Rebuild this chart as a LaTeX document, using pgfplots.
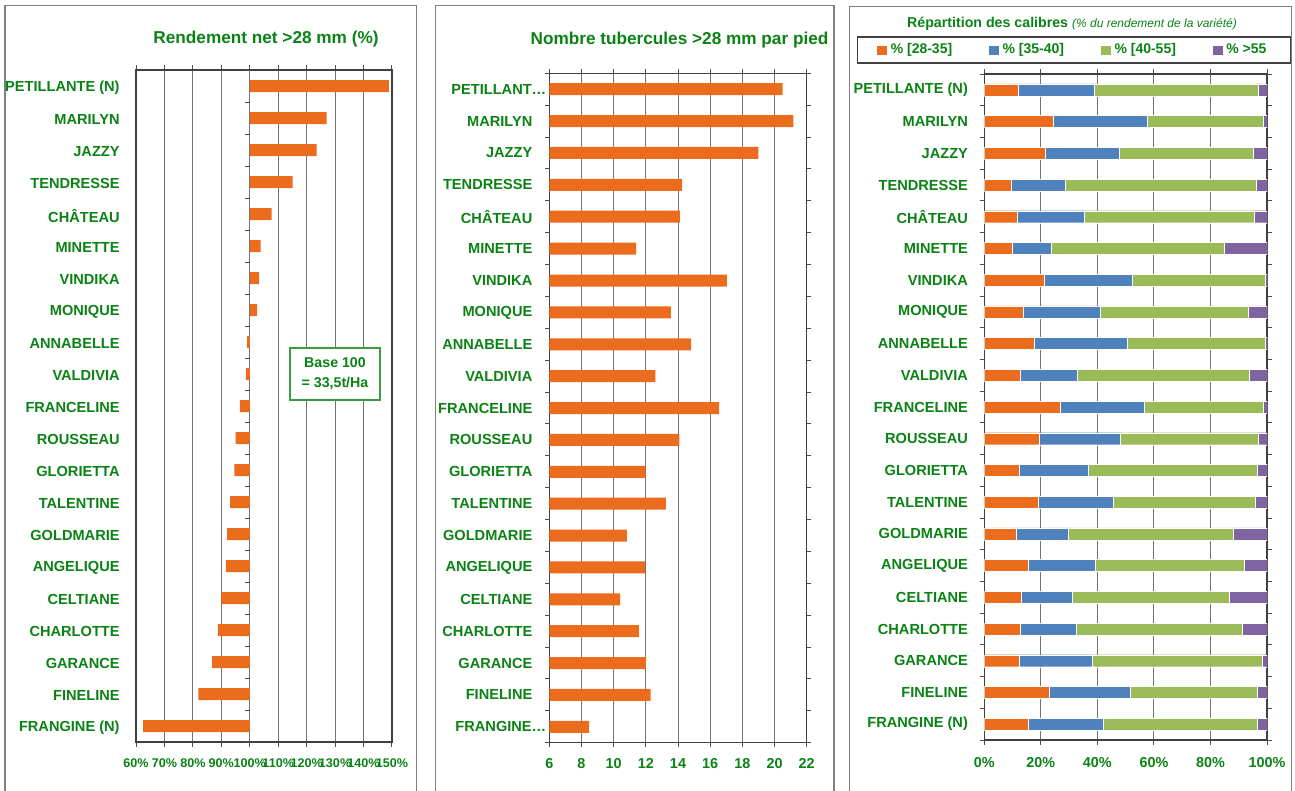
\documentclass[border=0pt]{standalone}
\usepackage{pgfplots}
\pgfplotsset{compat=1.18}
\usepackage{pgfplotstable}
\usepackage{fontspec}
\setmainfont{Liberation Sans}

\definecolor{vert}{RGB}{10,130,20}
\definecolor{orange1}{RGB}{236,108,29}
\definecolor{bleu1}{RGB}{79,129,189}
\definecolor{vert1}{RGB}{155,187,89}
\definecolor{violet1}{RGB}{128,100,162}
\definecolor{cadre}{RGB}{128,128,128}

% idx 0 = bas du graphique
\pgfplotstableread[col sep=comma]{
idx,name,rend,tub,a,b,c,d
0,FRANGINE (N),62.5,8.47,15.7,26.4,54.4,3.5
1,FINELINE,81.9,12.3,22.8,28.9,45.0,3.3
2,GARANCE,86.8,12.0,12.4,25.8,60.0,1.8
3,CHARLOTTE,88.8,11.57,12.7,19.8,58.7,8.8
4,CELTIANE,90.0,10.4,13.1,18.0,55.7,13.2
5,ANGELIQUE,91.6,11.94,15.4,23.9,52.6,8.1
6,GOLDMARIE,92.0,10.82,11.2,18.5,58.4,11.9
7,TALENTINE,93.1,13.24,19.1,26.5,50.2,4.2
8,GLORIETTA,94.6,11.98,12.5,24.3,59.9,3.3
9,ROUSSEAU,95.0,14.09,19.5,28.6,48.7,3.2
10,FRANCELINE,96.5,16.56,27.0,29.4,42.2,1.4
11,VALDIVIA,98.6,12.6,12.6,20.2,60.8,6.4
12,ANNABELLE,99.1,14.82,17.5,33.1,48.7,0.7
13,MONIQUE,102.6,13.55,13.7,27.2,52.5,6.6
14,VINDIKA,103.3,17.04,21.2,31.2,46.9,0.7
15,MINETTE,103.8,11.40,9.9,13.8,61.1,15.2
16,CHÂTEAU,107.7,14.11,11.6,23.9,60.1,4.4
17,TENDRESSE,115.1,14.26,9.6,19.1,67.5,3.8
18,JAZZY,123.5,19.0,21.5,26.1,47.4,5.0
19,MARILYN,127.0,21.17,24.5,33.0,41.2,1.3
20,PETILLANTE (N),148.9,20.5,11.9,27.0,57.9,3.2
}\data

\newcommand{\catfont}{\fontsize{7.3}{8}\selectfont\bfseries}

\pgfplotsset{
  panel/.style={
    scale only axis, anchor=south west,
    ymin=-0.5, ymax=20.5,
    ytick={-0.5,0.5,...,20.5},
    y tick label as interval,
    yticklabels from table={\data}{name},
    yticklabel style={font=\catfont, text=vert, inner sep=0pt},
    xticklabel style={text=vert, inner sep=0pt},
    tick align=outside, major tick length=2.3pt,
    tick style={black!70, line width=0.5pt},
    xmajorgrids, grid style={black!55, line width=0.5pt},
    axis line style={black!75, line width=0.6pt},
    /pgf/number format/assume math mode=true,
  },
  carre/.style={legend image code/.code={\fill[#1] (0pt,-2.1pt) rectangle (4.5pt,2.1pt);}},
}

\begin{document}
\begin{tikzpicture}
\useasboundingbox (0,0) rectangle (647.5pt,-395.5pt);

% cadres
\draw[cadre, line width=0.6pt] (2.5pt,-400pt) |- (208.3pt,-2.85pt) -- (208.3pt,-400pt);
\draw[cadre, line width=0.6pt] (217.8pt,-400pt) |- (417pt,-2.85pt) -- (417pt,-400pt);
\draw[cadre, line width=0.6pt] (424.7pt,-400pt) |- (645.8pt,-3.3pt) -- (645.8pt,-400pt);

% ---- Rendement net
\begin{axis}[panel, xbar, bar width=6pt,
  at={(68pt,-371pt)}, width=128pt, height=336pt,
  xmin=-40, xmax=50,
  xtick={-40,-30,...,50},
  xticklabels={60\%,70\%,80\%,90\%,100\%,110\%,120\%,130\%,140\%,150\%},
  xticklabel style={font=\fontsize{6.3}{7}\selectfont\bfseries, yshift=-5.8pt},
  ytick style={draw=none},
  yticklabel style={xshift=-5.7pt, yshift=-0.8pt},
]
  \addplot[fill=orange1, draw=none] table[x expr=\thisrow{rend}-100, y=idx] {\data};
  \pgfplotsinvokeforeach{-0.5,0.5,...,20.5}{
    \draw[black!70, line width=0.5pt] (axis cs:0,#1) -- ++(-2.5pt,0pt);
  }
\end{axis}
\node[text=vert, font=\fontsize{8.6}{10}\selectfont\bfseries] at (133pt,-19.5pt) {Rendement net >28 mm (\%)};
\node[draw=vert!80, line width=0.6pt, fill=white, minimum width=45pt, minimum height=26pt,
  align=center, inner sep=0pt, text=vert, font=\fontsize{7.1}{10}\selectfont\bfseries]
  at (167.5pt,-187pt) {Base 100\\= 33,5t/Ha};

% ---- Nombre tubercules
\begin{axis}[panel, xbar, bar width=6pt,
  at={(274.65pt,-371.35pt)}, width=128.7pt, height=334.7pt,
  xmin=6, xmax=22,
  xtick={6,8,...,22},
  xticklabel style={font=\fontsize{7.2}{8}\selectfont\bfseries, yshift=-5.5pt},
  yticklabels={FRANGINE…\kern-7pt,FINELINE,GARANCE,CHARLOTTE,CELTIANE,ANGELIQUE,GOLDMARIE,TALENTINE,GLORIETTA,ROUSSEAU,FRANCELINE,VALDIVIA,ANNABELLE,MONIQUE,VINDIKA,MINETTE,CHÂTEAU,TENDRESSE,JAZZY,MARILYN,PETILLANT…\kern-7pt},
  yticklabel style={xshift=-6pt},
]
  \addplot[fill=orange1, draw=none] table[x=tub, y=idx] {\data};
\end{axis}
\node[text=vert, font=\fontsize{8.6}{10}\selectfont\bfseries] at (339.75pt,-20pt) {Nombre tubercules >28 mm par pied};

% ---- Repartition des calibres
\begin{axis}[panel, xbar stacked, bar width=6pt,
  at={(492.15pt,-370pt)}, width=141.35pt, height=333pt,
  xmin=0, xmax=100,
  xtick={0,20,...,100},
  xticklabels={0\%,20\%,40\%,60\%,80\%,100\%},
  xticklabel style={font=\fontsize{7.2}{8}\selectfont\bfseries, yshift=-6.3pt},
  yticklabel style={xshift=-5.7pt},
  legend columns=4,
  legend style={at={(0.317,1.036)}, anchor=center, draw=black!75, line width=0.6pt,
    font=\fontsize{7}{8}\selectfont\bfseries, text=vert,
    inner xsep=10pt, inner ysep=1.2pt,
    /tikz/every even column/.append style={column sep=16.5pt}},
]
  \addplot[fill=orange1, draw=white, line width=0.2pt, carre=orange1] table[x=a, y=idx] {\data};
  \addplot[fill=bleu1, draw=white, line width=0.2pt, carre=bleu1] table[x=b, y=idx] {\data};
  \addplot[fill=vert1, draw=white, line width=0.2pt, carre=vert1] table[x=c, y=idx] {\data};
  \addplot[fill=violet1, draw=white, line width=0.2pt, carre=violet1] table[x=d, y=idx] {\data};
  \legend{\% [28-35],\% [35-40],\% [40-55],\% >55}
\end{axis}
\node[text=vert] at (536pt,-12pt) {\fontsize{7.1}{8}\selectfont\bfseries Répartition des calibres \fontsize{6}{7}\selectfont\mdseries\itshape(\% du rendement de la variété)};

\end{tikzpicture}
\end{document}
